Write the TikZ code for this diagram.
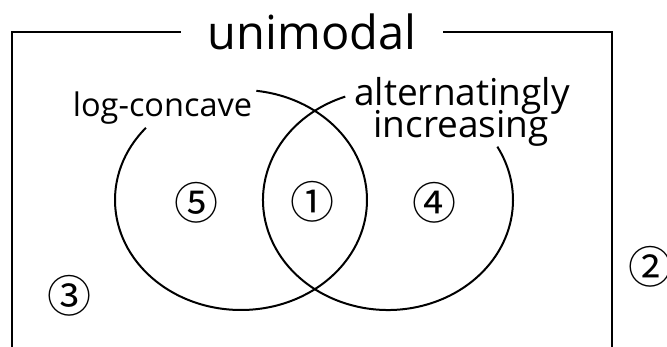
\documentclass[tikz,border=0pt]{standalone}
\usepackage{fontspec}
\setmainfont{Open Sans}
\newfontfamily\cjkfont{Noto Sans CJK JP}
\tikzset{
  line/.style={line width=2pt, black},
  title/.style={font=\fontsize{47}{50}\selectfont, inner sep=0pt, anchor=base},
  lab/.style={font=\fontsize{32.5}{36}\selectfont, inner sep=0pt, anchor=base},
  labb/.style={font=\fontsize{37}{40}\selectfont, inner sep=0pt, anchor=base},
  num/.style={font=\cjkfont\fontsize{44}{46}\selectfont, inner sep=0pt, anchor=center},
}
\begin{document}
\begin{tikzpicture}[x=1pt,y=1pt]
\useasboundingbox (0,0) rectangle (667,347);
% frame
\coordinate (bl) at (12,-5);
\coordinate (tl) at (12,315);
\coordinate (tlend) at (181,315);
\coordinate (trstart) at (443,315);
\coordinate (tr) at (612,315);
\coordinate (br) at (612,-5);
\draw[line] (bl) -- (tl) -- (tlend);
\draw[line] (trstart) -- (tr) -- (br);
\node[title] (uni) at (312,297) {unimodal};
% ellipses
\coordinate (lc) at (241,147);
\coordinate (rc) at (388,147);
\draw[line] ([shift={(139:126pt and 110pt)}]lc) arc[start angle=139, end angle=443, x radius=126pt, y radius=110pt];
\draw[line] ([shift={(110:125pt and 110pt)}]rc) arc[start angle=110, end angle=389, x radius=125pt, y radius=110pt];
% labels
\node[lab] (lcv) at (162.5,230) {log-concave};
\node[labb] (al1) at (462,241) {alternatingly};
\node[labb] (al2) at (461,209) {increasing};
% region numbers
\node[num] (n1) at (312,145) {①};
\node[num] (n2) at (650,80) {②};
\node[num] (n3) at (69,51) {③};
\node[num] (n4) at (434.5,144) {④};
\node[num] (n5) at (196,144.5) {⑤};
\end{tikzpicture}
\end{document}
